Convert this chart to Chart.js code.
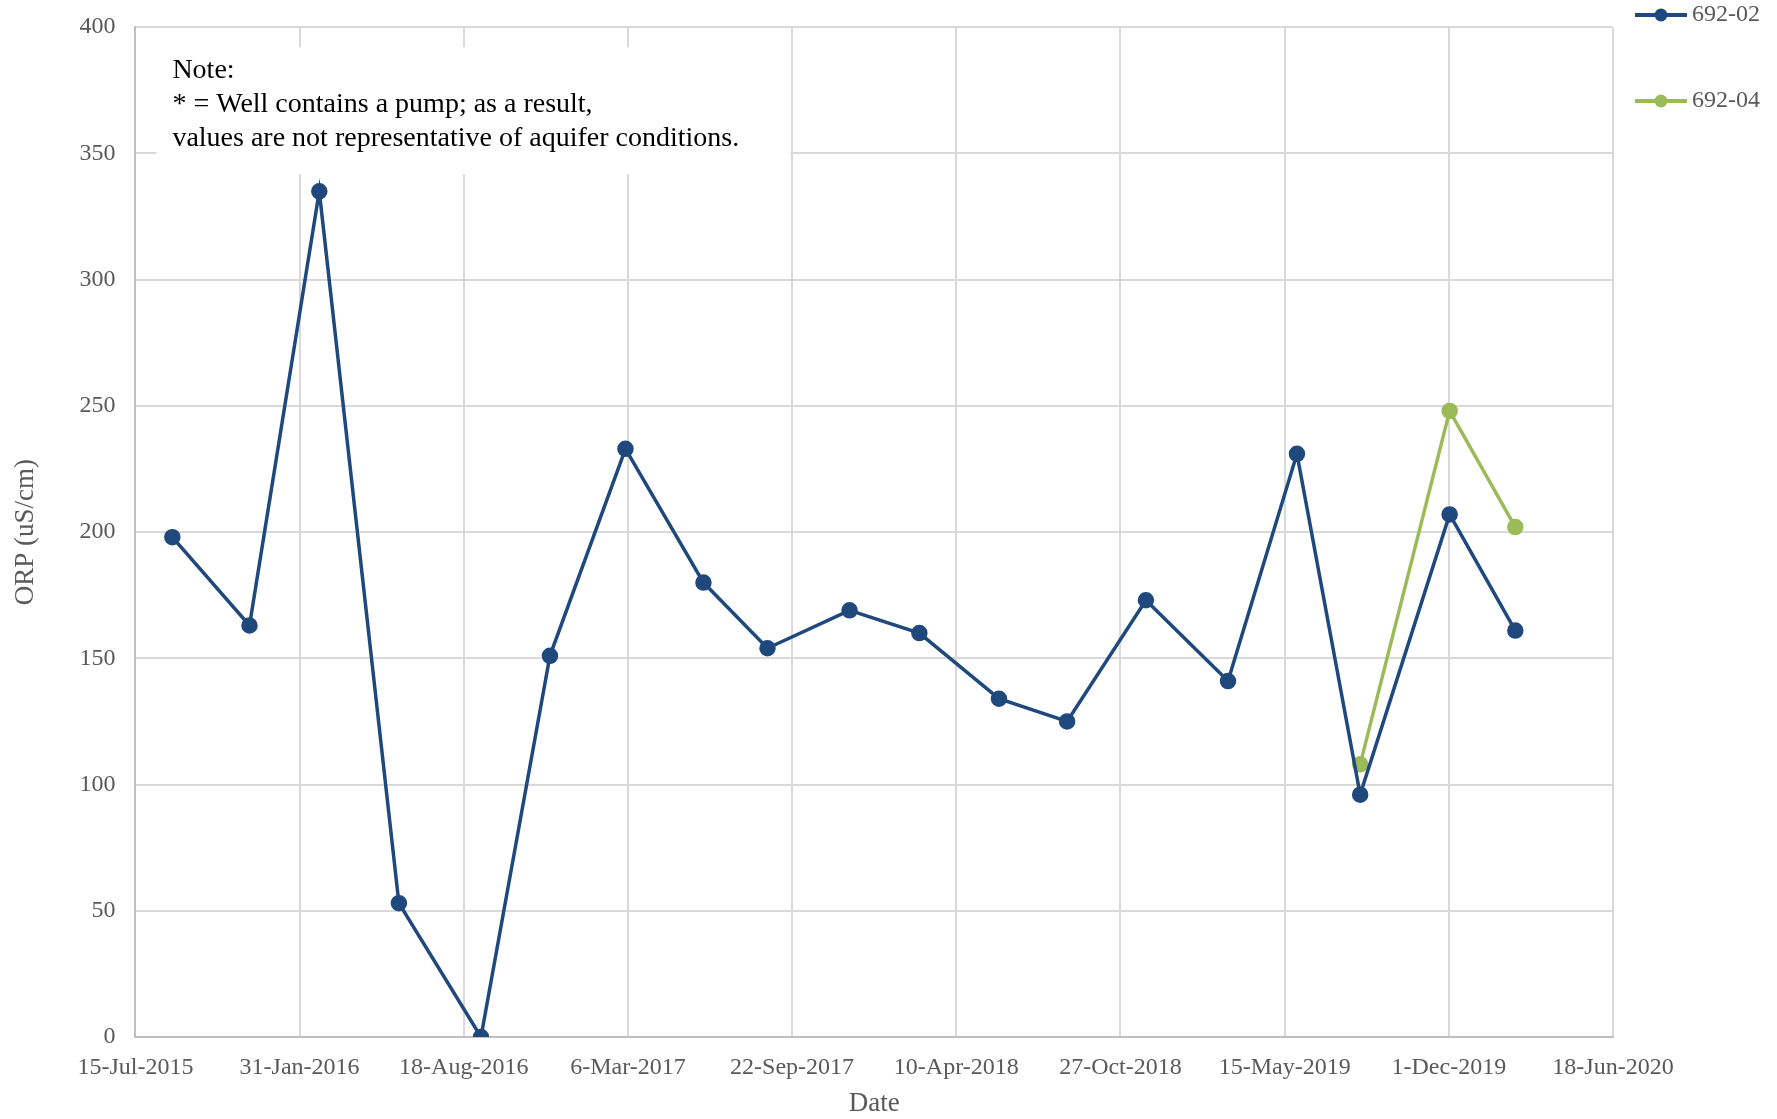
<!DOCTYPE html>
<html>
<head>
<meta charset="utf-8">
<script src="https://cdn.jsdelivr.net/npm/chart.js@4/dist/chart.umd.min.js"></script>
<style>
  html, body { margin: 0; padding: 0; background: #fff; }
  #wrap { width: 1777px; height: 1119px; position: relative; }
</style>
</head>
<body>
<div id="wrap"><canvas id="orpChart"></canvas></div>
<script>
// sample dates and ORP readings
const dates0202 = [
  '2015-08-29', '2015-12-01', '2016-02-24', '2016-05-31', '2016-09-08',
  '2016-12-01', '2017-03-03', '2017-06-06', '2017-08-23', '2017-12-01',
  '2018-02-24', '2018-06-01', '2018-08-23', '2018-11-27', '2019-03-07',
  '2019-05-30', '2019-08-15', '2019-12-02', '2020-02-20'
];
const orp0202 = [198, 163, 335, 53, 0, 151, 233, 180, 154, 169, 160, 134, 125, 173, 141, 231, 96, 207, 161];

const dates0204 = ['2019-08-15', '2019-12-02', '2020-02-20'];
const orp0204 = [108, 248, 202];

const seriesNames = ['692-02', '692-04'];
const seriesColors = ['#1F497D', '#9BBB59'];

const xMinDate = '2015-07-15';
const xMaxDate = '2020-06-18';
const xStepDays = 200;
const yTicks = [0, 50, 100, 150, 200, 250, 300, 350, 400];

const noteLines = [
  'Note:',
  '* = Well contains a pump; as a result,',
  'values are not representative of aquifer conditions.'
];

const MONTHS = ['Jan','Feb','Mar','Apr','May','Jun','Jul','Aug','Sep','Oct','Nov','Dec'];
const toDay = s => Date.parse(s + 'T00:00:00Z') / 86400000;
const fmtDay = d => {
  const dt = new Date(d * 86400000);
  return dt.getUTCDate() + '-' + MONTHS[dt.getUTCMonth()] + '-' + dt.getUTCFullYear();
};

const pts = (ds, vs) => ds.map((d, i) => ({ x: toDay(d), y: vs[i] }));

const FONT = '"Liberation Serif", "Times New Roman", serif';
const GREY = '#595959';

// white note box over the grid, top-left of the plot
const notePlugin = {
  id: 'note',
  beforeDatasetsDraw(chart) {
    const { ctx, chartArea } = chart;
    ctx.save();
    ctx.fillStyle = '#fff';
    ctx.fillRect(chartArea.left + 21, chartArea.top + 20, 634, 127);
    ctx.fillStyle = '#000';
    ctx.font = '28px ' + FONT;
    ctx.textBaseline = 'middle';
    noteLines.forEach((t, i) => {
      ctx.fillText(t, chartArea.left + 37, chartArea.top + 43 + i * 34);
    });
    ctx.restore();
  }
};

// legend: line with marker, stacked down the right edge
const legendPlugin = {
  id: 'sideLegend',
  afterDraw(chart) {
    const { ctx, chartArea } = chart;
    ctx.save();
    ctx.font = '24px ' + FONT;
    ctx.textBaseline = 'middle';
    seriesNames.forEach((name, i) => {
      const y = 15 + i * 86;
      const x0 = chartArea.right + 22;
      ctx.strokeStyle = seriesColors[i];
      ctx.lineWidth = 4;
      ctx.beginPath();
      ctx.moveTo(x0, y);
      ctx.lineTo(x0 + 52, y);
      ctx.stroke();
      ctx.fillStyle = seriesColors[i];
      ctx.beginPath();
      ctx.arc(x0 + 26, y, 6.5, 0, Math.PI * 2);
      ctx.fill();
      ctx.fillStyle = GREY;
      ctx.fillText(name, x0 + 57, y);
    });
    ctx.restore();
  }
};

const ctx = document.getElementById('orpChart').getContext('2d');
new Chart(ctx, {
  type: 'line',
  data: {
    datasets: [
      {
        label: seriesNames[0],
        data: pts(dates0202, orp0202),
        borderColor: seriesColors[0],
        backgroundColor: seriesColors[0],
        borderWidth: 3.5,
        pointRadius: 6.5,
        pointHoverRadius: 6.5,
        tension: 0
      },
      {
        label: seriesNames[1],
        data: pts(dates0204, orp0204),
        borderColor: seriesColors[1],
        backgroundColor: seriesColors[1],
        borderWidth: 3.5,
        pointRadius: 6.5,
        pointHoverRadius: 6.5,
        tension: 0
      }
    ]
  },
  options: {
    responsive: true,
    maintainAspectRatio: false,
    animation: false,
    layout: {
      padding: { left: 10, right: 164, top: 0, bottom: 2 }
    },
    plugins: {
      legend: { display: false },
      tooltip: { enabled: false }
    },
    scales: {
      x: {
        type: 'linear',
        min: toDay(xMinDate),
        max: toDay(xMaxDate),
        afterBuildTicks(axis) {
          const ticks = [];
          for (let d = toDay(xMinDate); d <= toDay(xMaxDate); d += xStepDays) ticks.push({ value: d });
          axis.ticks = ticks;
        },
        ticks: {
          autoSkip: false,
          maxRotation: 0,
          padding: 19,
          color: GREY,
          font: { family: FONT, size: 24, lineHeight: 1 },
          callback: v => fmtDay(v)
        },
        grid: { color: '#d9d9d9', lineWidth: 2, drawTicks: false },
        border: { color: '#bfbfbf', width: 2 },
        title: {
          display: true,
          text: 'Date',
          color: GREY,
          font: { family: FONT, size: 27, lineHeight: 1 },
          padding: { top: -9, bottom: 0 }
        }
      },
      y: {
        min: 0,
        max: 400,
        afterBuildTicks(axis) {
          axis.ticks = yTicks.map(v => ({ value: v }));
        },
        ticks: {
          padding: 20,
          color: GREY,
          font: { family: FONT, size: 24, lineHeight: 0.6 }
        },
        grid: { color: '#d9d9d9', lineWidth: 2, drawTicks: false },
        border: { color: '#bfbfbf', width: 2 },
        title: {
          display: true,
          text: 'ORP (uS/cm)',
          color: GREY,
          font: { family: FONT, size: 27 },
          padding: { top: 0, bottom: 17 }
        }
      }
    }
  },
  plugins: [notePlugin, legendPlugin]
});
</script>
</body>
</html>
